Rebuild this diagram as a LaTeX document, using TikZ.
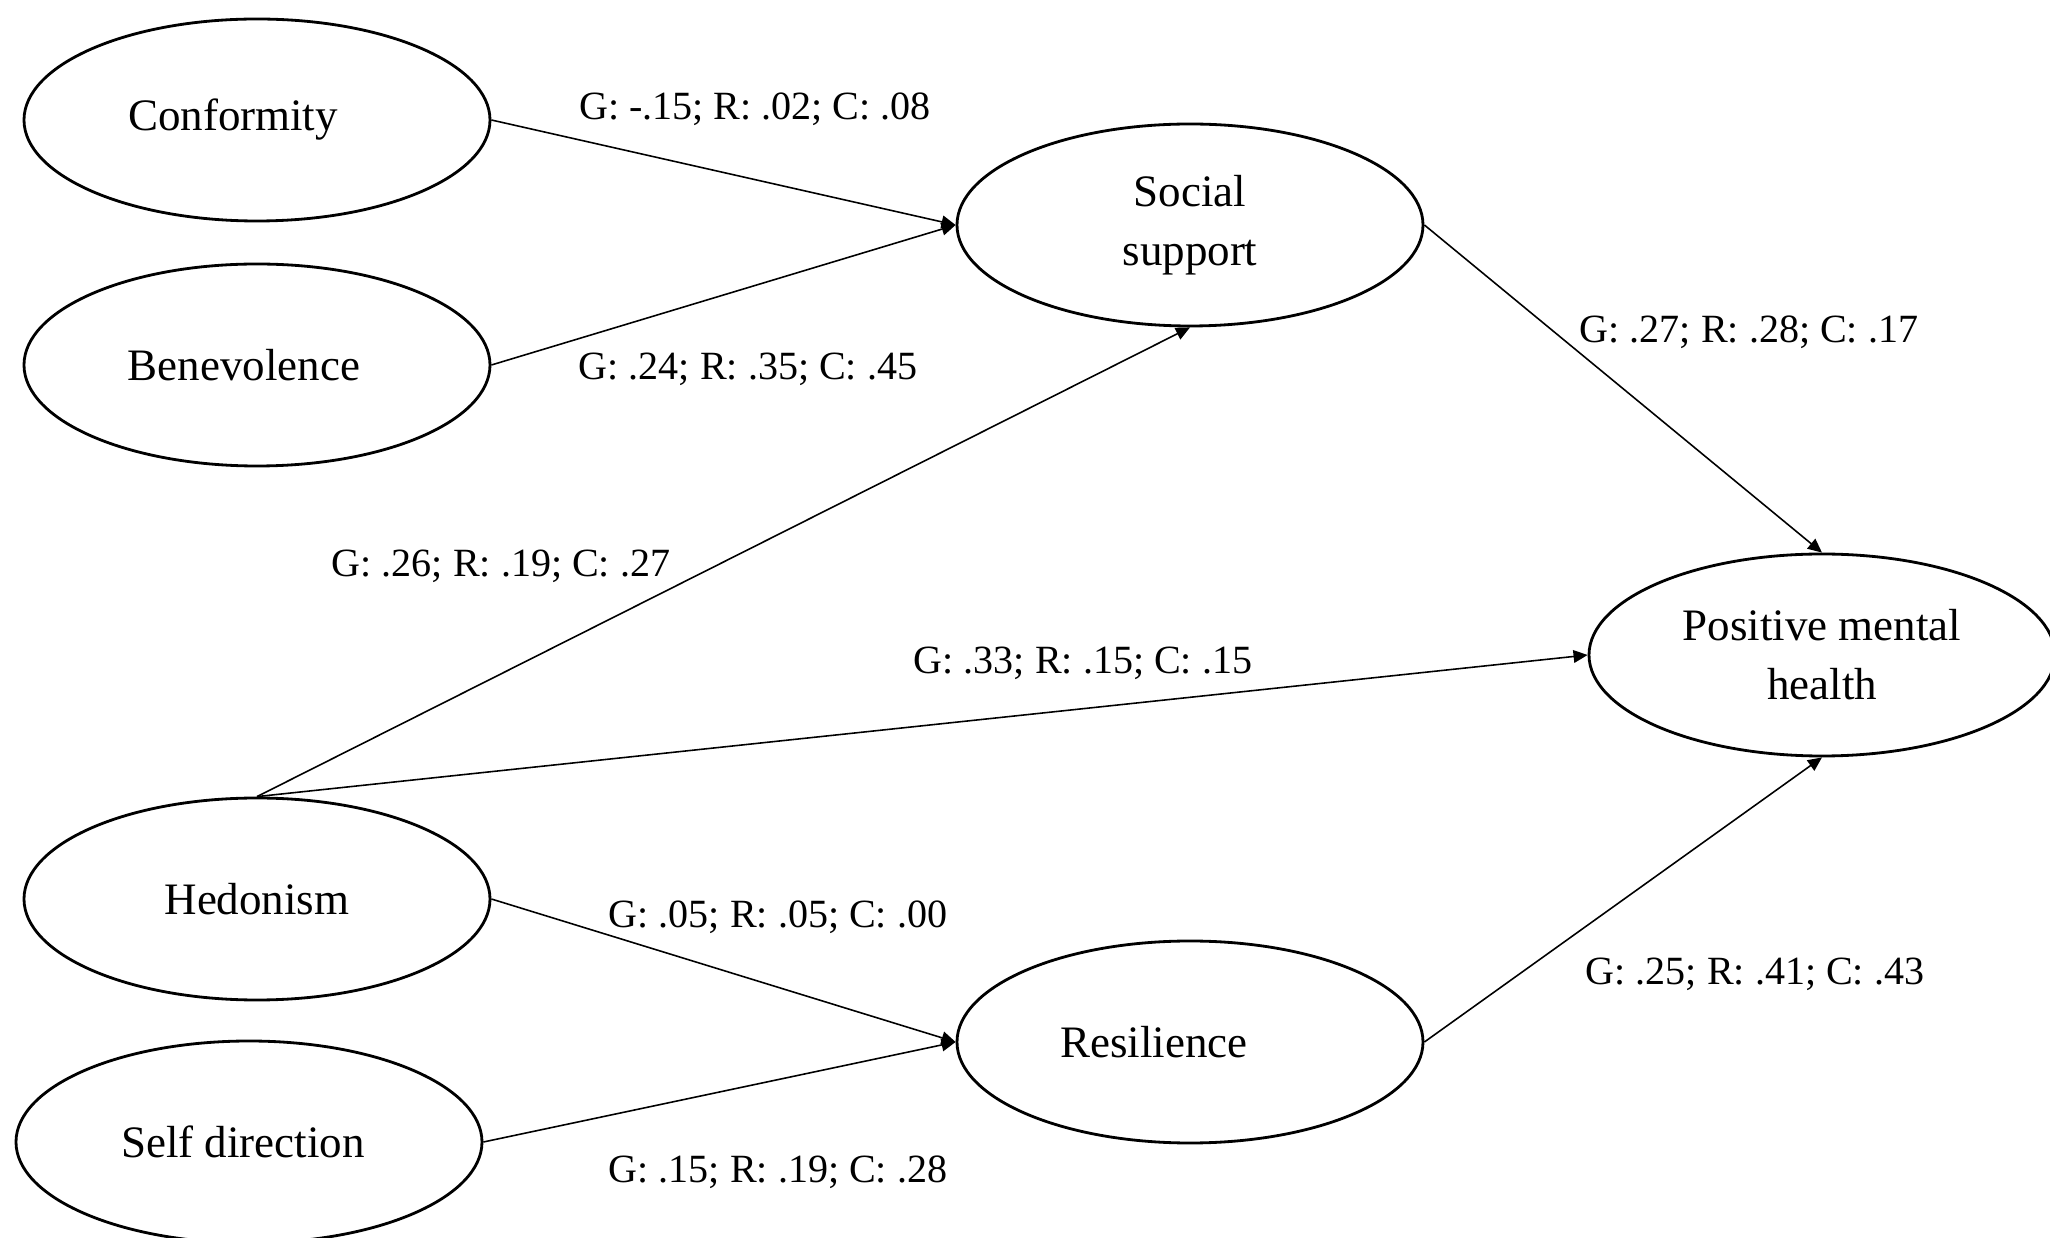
\documentclass[tikz,border=0pt]{standalone}
\usepackage{fontspec}
\setmainfont{Liberation Serif}
\usetikzlibrary{arrows.meta}
\usetikzlibrary{shapes.geometric}

\begin{document}
\begin{tikzpicture}[x=0.1mm, y=-0.1mm]
\useasboundingbox (0,0) rectangle (2050,1238);

\begin{scope}[every node/.style={draw=black, line width=0.8pt, ellipse, minimum width=46.6mm, minimum height=20.2mm, inner sep=0pt, font=\fontsize{12.8}{16.8}\selectfont}]
    \node (conf) at (257,120) {Conformity\hspace*{4.8mm}};
    \node (bene) at (257,365) {Benevolence\hspace*{2.6mm}};
    \node (hedo) at (257,899) {Hedonism};
    \node (self) at (249,1142) {Self direction\hspace*{1.2mm}};
    \node[align=center] (soc) at (1190,225) {Social\\support};
    \node (res) at (1190,1042) {Resilience\hspace*{7.2mm}};
    \node[align=center] (pmh) at (1822,655) {Positive mental\\health};
\end{scope}

\begin{scope}[>={Triangle[length=4pt, width=3.6pt]},
              every edge/.style={draw=black, line width=0.45pt}]
    \path [->] (conf.east) edge (soc.west);
    \path [->] (bene.east) edge (soc.west);
    \path [->] (hedo.north) edge (soc.south);
    \path [->] (hedo.north) edge (pmh.west);
    \path [->] (soc.east) edge (pmh.north);
    \path [->] (hedo.east) edge (res.west);
    \path [->] (self.east) edge (res.west);
    \path [->] (res.east) edge (pmh.south);
\end{scope}

\begin{scope}[every node/.style={anchor=base, inner sep=0pt, font=\fontsize{11.4}{14}\selectfont}]
    \node (wconf) at (755,120) {G: -.15; R: .02; C: .08};
    \node (wbene) at (748,380) {G: .24; R: .35; C: .45};
    \node (whsoc) at (501,577) {G: .26; R: .19; C: .27};
    \node (whpmh) at (1083,674) {G: .33; R: .15; C: .15};
    \node (wsoc) at (1749,343) {G: .27; R: .28; C: .17};
    \node (whres) at (778,928) {G: .05; R: .05; C: .00};
    \node (wself) at (778,1182) {G: .15; R: .19; C: .28};
    \node (wres) at (1755,985) {G: .25; R: .41; C: .43};
\end{scope}

\end{tikzpicture}
\end{document}
